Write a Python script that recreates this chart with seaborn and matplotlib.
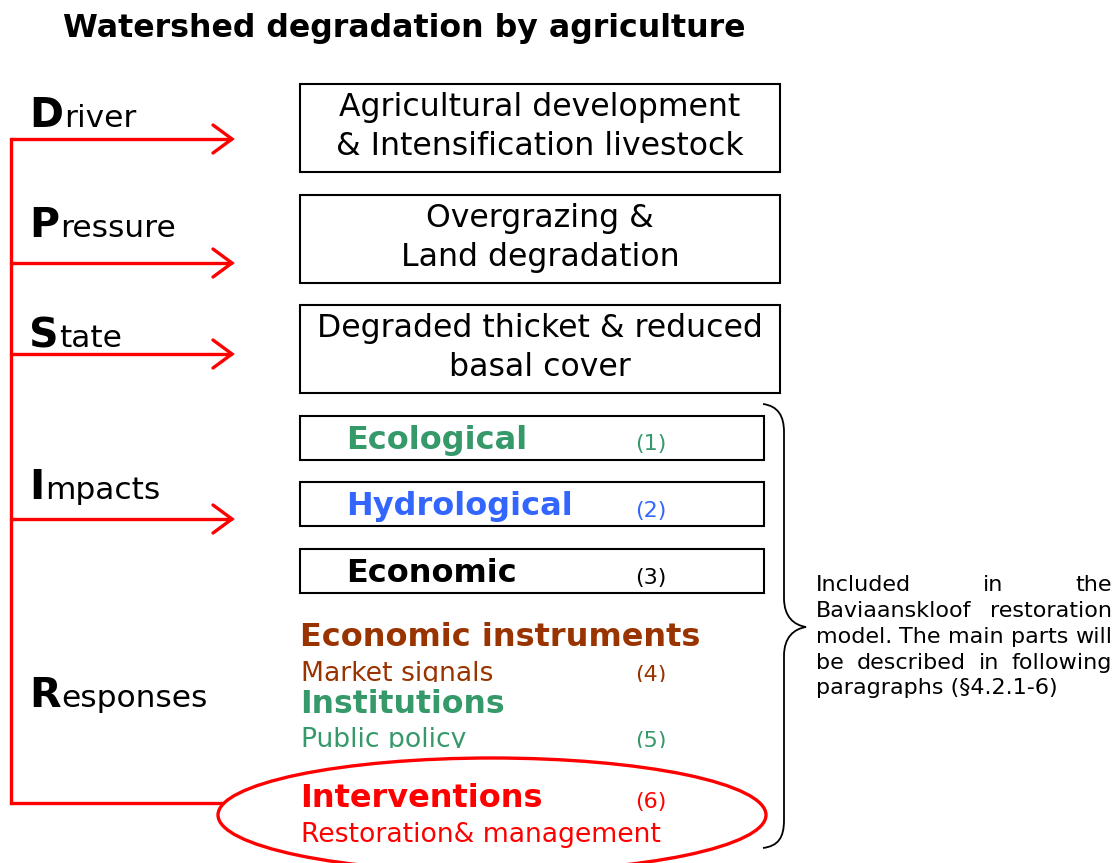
import matplotlib
matplotlib.use("Agg")
import matplotlib.pyplot as plt
import seaborn as sns
from matplotlib.patches import Rectangle, Ellipse, PathPatch
from matplotlib.path import Path

# ------------------- diagram content

title = "Watershed degradation by agriculture"

stage_initials = ["D", "P", "S", "I", "R"]
stage_rests = ["river", "ressure", "tate", "mpacts", "esponses"]

box_lines = [
    ["Agricultural development", "& Intensification livestock"],
    ["Overgrazing &", "Land degradation"],
    ["Degraded thicket & reduced", "basal cover"],
]

impact_names = ["Ecological", "Hydrological", "Economic"]
impact_numbers = ["(1)", "(2)", "(3)"]

response_heads = ["Economic instruments", "Institutions", "Interventions"]
response_subs = ["Market signals", "Public policy", "Restoration& management"]
response_numbers = ["(4)", "(5)", "(6)"]

note_lines = [
    ["Included", "in", "the"],
    ["Baviaanskloof", "restoration"],
    ["model.", "The", "main", "parts", "will"],
    ["be", "described", "in", "following"],
    ["paragraphs", "(§4.2.1-6)"],
]

# ------------------- layout (pixels, y downwards)

stage_baseline = [127, 237, 347, 499, 707]
arrow_y = [139, 263, 354, 519]
box_top = [84, 195, 305]
impact_top = [416, 482, 549]
impact_baseline = [449, 515, 582]
number_baseline = [450, 517, 584]
head_baseline = [646, 713, 807]
head_size = [23, 22.7, 23]
sub_baseline = [681, 747, 842]
resp_number_baseline = [681, 747, 808]
sub_clip = [682, 748, None]
note_baseline = [591, 617, 643, 669, 694]

GREEN = "#35996a"
BLUE = "#3366ff"
BROWN = "#993300"
RED = "#ff0000"
impact_colors = [GREEN, BLUE, "black"]
response_colors = [BROWN, GREEN, RED]

sns.set_theme(style="white")
plt.rcParams["font.family"] = ["DejaVu Sans"]
plt.rcParams["text.color"] = "black"

W, H = 1119, 863
fig = plt.figure(figsize=(W / 100, H / 100), dpi=100)
ax = fig.add_axes([0, 0, 1, 1])
ax.set_xlim(0, W)
ax.set_ylim(H, 0)
ax.axis("off")
renderer = fig.canvas.get_renderer()

ax.text(404, 37, title, ha="center", va="baseline", fontsize=22.8,
        fontweight="bold", color="black")

# stage labels: big bold initial + regular rest
for letter, rest, yb in zip(stage_initials, stage_rests, stage_baseline):
    t = ax.text(29, yb, letter, ha="left", va="baseline", fontsize=29.5,
                fontweight="bold", color="black")
    w = t.get_window_extent(renderer).width
    ax.text(29 + w + 1, yb, rest, ha="left", va="baseline", fontsize=22.5,
            color="black")

# red trunk and arrows
red_lw = 2.4
ax.plot([11, 11], [139, 803], color=RED, lw=red_lw, solid_capstyle="projecting")
for y in arrow_y:
    ax.plot([11, 231], [y, y], color=RED, lw=red_lw)
    ax.plot([213, 232, 213], [y - 14, y, y + 14], color=RED, lw=red_lw,
            solid_joinstyle="miter", solid_capstyle="round")
ax.plot([11, 222], [803, 803], color=RED, lw=red_lw)

# top boxes
for top, lines in zip(box_top, box_lines):
    ax.add_patch(Rectangle((300, top), 480, 88, fill=False, ec="black", lw=1.5))
    ax.text(540, top + 32, lines[0], ha="center", va="baseline", fontsize=22.7,
            color="black")
    ax.text(540, top + 71, lines[1], ha="center", va="baseline", fontsize=22.7,
            color="black")

# impact boxes
for top, name, num, col, yb, nb in zip(impact_top, impact_names, impact_numbers,
                                       impact_colors, impact_baseline, number_baseline):
    ax.add_patch(Rectangle((300, top), 464, 44, fill=False, ec="black", lw=1.5))
    ax.text(346, yb, name, ha="left", va="baseline", fontsize=23,
            fontweight="bold", color=col)
    ax.text(635, nb, num, ha="left", va="baseline", fontsize=16, color=col)

# responses
for head, sub, num, col, hb, hs, sb, nb, clip in zip(
        response_heads, response_subs, response_numbers, response_colors,
        head_baseline, head_size, sub_baseline, resp_number_baseline, sub_clip):
    ax.text(300, hb, head, ha="left", va="baseline", fontsize=hs,
            fontweight="bold", color=col)
    t1 = ax.text(301, sb, sub, ha="left", va="baseline", fontsize=19.2, color=col)
    t2 = ax.text(635, nb, num, ha="left", va="baseline", fontsize=16, color=col)
    if clip is not None:
        for t in (t1, t2):
            t.set_clip_path(Rectangle((0, 0), W, clip, transform=ax.transData))
            t.set_clip_on(True)

ax.add_patch(Ellipse((492, 815), 548, 114, fill=False, ec=RED, lw=2.4))

# curly brace
verts = [
    (763, 404), (778, 406), (784, 416), (784, 432),
    (784, 598),
    (784, 617), (794, 625), (806, 627),
    (794, 629), (784, 637), (784, 656),
    (784, 820),
    (784, 838), (778, 846), (763, 848),
]
codes = [Path.MOVETO, Path.CURVE4, Path.CURVE4, Path.CURVE4,
         Path.LINETO,
         Path.CURVE4, Path.CURVE4, Path.CURVE4,
         Path.CURVE4, Path.CURVE4, Path.CURVE4,
         Path.LINETO,
         Path.CURVE4, Path.CURVE4, Path.CURVE4]
ax.add_patch(PathPatch(Path(verts, codes), fill=False, ec="black", lw=1.3))

# justified note
x0, x1 = 816, 1112
for i, (words, yb) in enumerate(zip(note_lines, note_baseline)):
    if i == len(note_lines) - 1:
        ax.text(x0, yb, " ".join(words), ha="left", va="baseline", fontsize=16,
                color="black")
        continue
    texts = [ax.text(0, yb, w, ha="left", va="baseline", fontsize=16, color="black")
             for w in words]
    widths = [t.get_window_extent(renderer).width for t in texts]
    gap = (x1 - x0 - sum(widths)) / (len(words) - 1)
    x = x0
    for t, w in zip(texts, widths):
        t.set_x(x)
        x += w + gap

fig.savefig("out.png", dpi=100)
